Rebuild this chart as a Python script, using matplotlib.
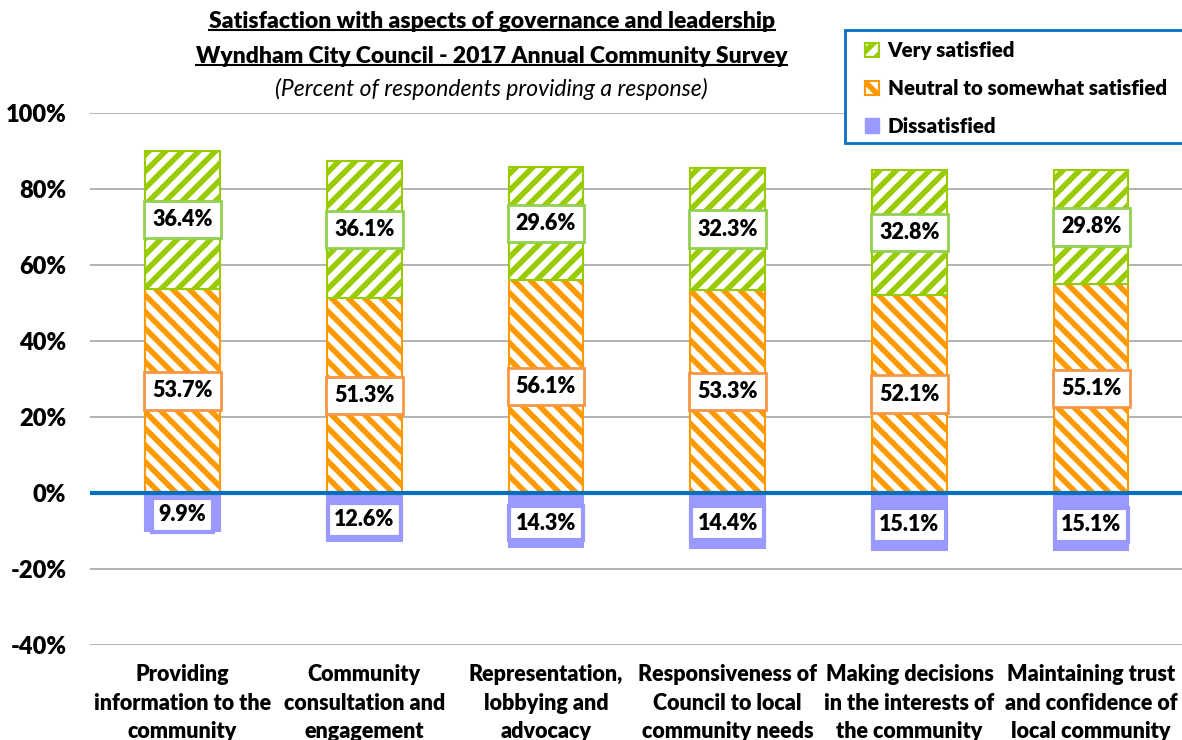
import matplotlib
matplotlib.use("Agg")
import matplotlib.pyplot as plt
from matplotlib.patches import Patch, Rectangle
from matplotlib.lines import Line2D
import numpy as np

# -----------------------------
# Data
# -----------------------------
categories = [
    "Providing\ninformation to the\ncommunity",
    "Community\nconsultation and\nengagement",
    "Representation,\nlobbying and\nadvocacy",
    "Responsiveness of\nCouncil to local\ncommunity needs",
    "Making decisions\nin the interests of\nthe community",
    "Maintaining trust\nand confidence of\nlocal community",
]
very_satisfied = [36.4, 36.1, 29.6, 32.3, 32.8, 29.8]
neutral = [53.7, 51.3, 56.1, 53.3, 52.1, 55.1]
dissatisfied = [9.9, 12.6, 14.3, 14.4, 15.1, 15.1]
y_ticks = [-40, -20, 0, 20, 40, 60, 80, 100]

GREEN = "#99CC00"
GREEN_BOX = "#92D050"
ORANGE = "#FF9900"
ORANGE_BOX = "#F79646"
PURPLE = "#9999FF"
BLUE = "#0070C0"

plt.rcParams["font.family"] = ["Lato", "DejaVu Sans"]
plt.rcParams["hatch.linewidth"] = 4.0
BOLD = "heavy"

fig = plt.figure(figsize=(11.82, 7.4), dpi=100)
ax = fig.add_axes([0.0761, 0.1284, 0.9239, 0.7189])

x = np.arange(len(categories))
w = 0.41

ax.bar(x, neutral, w, color="white", edgecolor=ORANGE, hatch="\\\\", linewidth=1.5, zorder=3)
ax.bar(x, very_satisfied, w, bottom=neutral, color="white", edgecolor=GREEN, hatch="//",
       linewidth=1.5, zorder=3)
ax.bar(x, [-d for d in dissatisfied], w, color=PURPLE, edgecolor=PURPLE, linewidth=1.5, zorder=3)

# data labels
for i in range(len(categories)):
    ax.text(x[i], neutral[i] / 2, f"{neutral[i]:.1f}%", ha="center", va="center",
            fontsize=15.5, fontweight=BOLD, zorder=5,
            bbox=dict(boxstyle="square,pad=0.38", fc="white", ec=ORANGE_BOX, lw=2))
    ax.text(x[i], neutral[i] + very_satisfied[i] / 2, f"{very_satisfied[i]:.1f}%",
            ha="center", va="center", fontsize=15.5, fontweight=BOLD, zorder=5,
            bbox=dict(boxstyle="square,pad=0.38", fc="white", ec=GREEN_BOX, lw=2))
    ax.text(x[i], -dissatisfied[i] / 2 - 0.8, f"{dissatisfied[i]:.1f}%", ha="center",
            va="center", fontsize=15.5, fontweight=BOLD, zorder=5,
            bbox=dict(boxstyle="square,pad=0.3", fc="white", ec=PURPLE, lw=3))

ax.set_ylim(-40, 100)
ax.set_xlim(-0.51, 5.5)
ax.set_yticks(y_ticks)
ax.set_yticklabels([f"{t}%" for t in y_ticks], fontsize=17, fontweight=BOLD)
ax.set_xticks(x)
ax.set_xticklabels(categories, fontsize=15.5, fontweight=BOLD, linespacing=1.42)
ax.tick_params(axis="x", length=0, pad=14)
ax.tick_params(axis="y", length=0, pad=17)
for s in ax.spines.values():
    s.set_visible(False)
ax.grid(axis="y", color="#A6A6A6", linewidth=1.2, zorder=0)
ax.axhline(0, color=BLUE, linewidth=3, zorder=4)

# title
t1 = fig.text(0.416, 0.971, "Satisfaction with aspects of governance and leadership",
              ha="center", va="center", fontsize=16.5, fontweight=BOLD)
t2 = fig.text(0.416, 0.924, "Wyndham City Council - 2017 Annual Community Survey",
              ha="center", va="center", fontsize=16.5, fontweight=BOLD)
fig.text(0.416, 0.880, "(Percent of respondents providing a response)",
         ha="center", va="center", fontsize=16.5, fontstyle="italic")

# legend (frame drawn separately so it runs off the right edge like the original)
fig.add_artist(Rectangle((845 / 1182, 1 - 143 / 740), 350 / 1182, 113 / 740,
                         transform=fig.transFigure, facecolor="white", edgecolor=BLUE,
                         linewidth=2, zorder=1))
handles = [
    Patch(facecolor="white", edgecolor=GREEN, hatch="//", linewidth=1.5),
    Patch(facecolor="white", edgecolor=ORANGE, hatch="\\\\", linewidth=1.5),
    Patch(facecolor=PURPLE, edgecolor=PURPLE),
]
leg = fig.legend(handles, ["Very satisfied", "Neutral to somewhat satisfied", "Dissatisfied"],
                 loc="upper left", bbox_to_anchor=(865 / 1182, 1 - 41 / 740),
                 borderaxespad=0, borderpad=0, frameon=False,
                 prop=dict(weight=BOLD, size=14.8), handlelength=0.7, handleheight=0.7,
                 handletextpad=0.4, labelspacing=0.92)
leg.set_zorder(2)

# underline the first two title lines
fig.canvas.draw()
r = fig.canvas.get_renderer()
for t in (t1, t2):
    bb = t.get_window_extent(r).transformed(fig.transFigure.inverted())
    fig.add_artist(Line2D([bb.x0, bb.x1], [bb.y0 + 0.002, bb.y0 + 0.002],
                          color="black", linewidth=1.5, transform=fig.transFigure))

fig.savefig("out.png", dpi=100)
